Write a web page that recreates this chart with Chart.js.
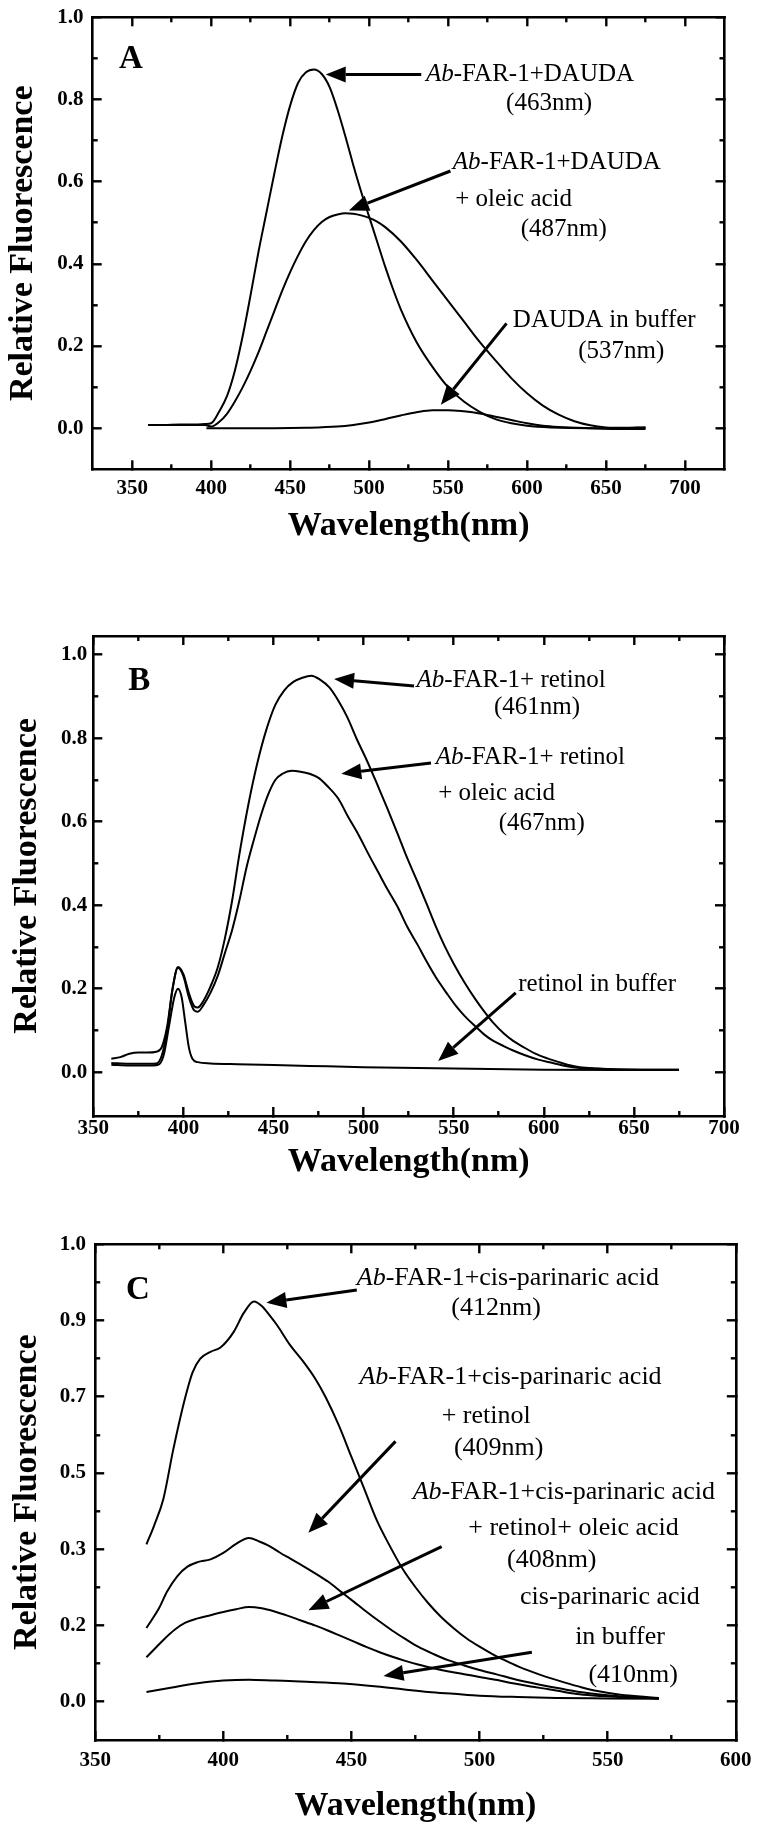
<!DOCTYPE html>
<html>
<head>
<meta charset="utf-8">
<title>Fluorescence emission spectra</title>
<script src="https://cdn.jsdelivr.net/npm/chart.js@4/dist/chart.umd.min.js"></script>
<style>
  html, body { margin:0; padding:0; background:#ffffff; }
  #page { position:relative; width:760px; height:1839px; overflow:hidden; background:#fff; }
  #page canvas { position:absolute; left:0; }
</style>
</head>
<body>
<div id="page">
  <canvas id="panelA" width="760" height="560" style="top:0px;"></canvas>
  <canvas id="panelB" width="760" height="630" style="top:560px;"></canvas>
  <canvas id="panelC" width="760" height="649" style="top:1190px;"></canvas>
</div>
<script>
// ---------------- Panel A data ----------------
const A_X_TICKS = [350, 400, 450, 500, 550, 600, 650, 700];
const A_X_LABELS = ['350', '400', '450', '500', '550', '600', '650', '700'];
const A_X_MINOR = [375, 425, 475, 525, 575, 625, 675];
const A_Y_TICKS = [0, 0.2, 0.4, 0.6, 0.8, 1.0];
const A_Y_LABELS = ['0.0', '0.2', '0.4', '0.6', '0.8', '1.0'];
const A_Y_MINOR = [0.1, 0.3, 0.5, 0.7, 0.9];

const A1_WL = [360,370,380,390,396,400,405,410,415,420,425,430,435,440,445,450,455,460,465,470,475,480,485,490,495,500,505,510,515,520,530,540,550,560,570,580,590,600,615,640,660,675];
const A1_F  = [0.008,0.008,0.009,0.009,0.01,0.012,0.04,0.078,0.14,0.225,0.325,0.43,0.525,0.62,0.71,0.785,0.84,0.866,0.873,0.862,0.83,0.775,0.71,0.64,0.575,0.515,0.455,0.395,0.34,0.29,0.21,0.15,0.1,0.065,0.04,0.022,0.012,0.006,0.002,0.0,0.0,0.002];
const A2_WL = [360,380,396,400,405,410,415,420,425,430,435,440,445,450,455,460,465,470,475,480,485,490,495,500,505,510,520,530,540,550,560,570,580,590,600,610,620,630,640,650,660,675];
const A2_F  = [0.008,0.008,0.008,0.004,0.015,0.035,0.065,0.1,0.14,0.185,0.235,0.285,0.335,0.38,0.42,0.455,0.482,0.502,0.514,0.52,0.523,0.522,0.518,0.512,0.503,0.49,0.455,0.41,0.36,0.31,0.26,0.21,0.165,0.122,0.085,0.055,0.033,0.017,0.007,0.002,0.001,0.002];
const A3_WL = [397,420,440,460,480,490,500,510,520,530,540,550,560,570,580,590,600,610,620,640,660,675];
const A3_F  = [0.0,0.0,0.0,0.001,0.004,0.008,0.014,0.022,0.031,0.039,0.044,0.044,0.041,0.036,0.028,0.02,0.012,0.006,0.003,0.0,-0.002,-0.002];

// ---------------- Panel B data ----------------
const B_X_TICKS = [350, 400, 450, 500, 550, 600, 650, 700];
const B_X_LABELS = ['350', '400', '450', '500', '550', '600', '650', '700'];
const B_X_MINOR = [375, 425, 475, 525, 575, 625, 675];
const B_Y_TICKS = [0, 0.2, 0.4, 0.6, 0.8, 1.0];
const B_Y_LABELS = ['0.0', '0.2', '0.4', '0.6', '0.8', '1.0'];
const B_Y_MINOR = [0.1, 0.3, 0.5, 0.7, 0.9];

const B1_WL = [360,365,370,375,380,385,388,391,394,397,400,403,406,408,411,415,419,423,427,431,436,441,446,451,456,461,466,471,476,481,486,491,496,502,508,513,519,524,530,535,540,545,550,556,562,567,572,578,583,588,595,602,610,615,620,630,640,655,675];
const B1_F  = [0.032,0.036,0.044,0.047,0.047,0.049,0.06,0.11,0.2,0.252,0.235,0.19,0.158,0.155,0.17,0.205,0.25,0.32,0.41,0.52,0.64,0.74,0.82,0.88,0.915,0.935,0.945,0.95,0.94,0.922,0.89,0.85,0.8,0.745,0.685,0.634,0.57,0.515,0.455,0.403,0.35,0.302,0.26,0.215,0.175,0.145,0.118,0.092,0.075,0.062,0.045,0.033,0.022,0.016,0.012,0.009,0.007,0.006,0.006];
const B2_WL = [360,370,380,385,388,391,394,397,400,403,406,408,411,415,419,423,427,431,435,439,443,447,451,455,460,465,470,475,480,486,491,497,503,508,513,519,524,530,535,540,546,551,556,562,567,572,578,583,590,597,605,612,620,630,645,675];
const B2_F  = [0.022,0.02,0.02,0.021,0.04,0.1,0.2,0.25,0.23,0.18,0.148,0.145,0.16,0.19,0.23,0.285,0.34,0.41,0.49,0.555,0.615,0.665,0.7,0.715,0.722,0.72,0.715,0.705,0.685,0.655,0.615,0.57,0.52,0.48,0.44,0.395,0.35,0.305,0.265,0.228,0.19,0.16,0.135,0.11,0.09,0.075,0.062,0.052,0.04,0.03,0.022,0.015,0.01,0.008,0.006,0.006];
const B3_WL = [360,370,380,386,389,392,395,397,399,401,403,405,408,415,430,450,470,500,530,560,600,640,675];
const B3_F  = [0.018,0.016,0.016,0.018,0.04,0.11,0.18,0.2,0.18,0.12,0.06,0.032,0.024,0.021,0.019,0.017,0.015,0.012,0.01,0.008,0.006,0.005,0.005];

// ---------------- Panel C data ----------------
const C_X_TICKS = [350, 400, 450, 500, 550, 600];
const C_X_LABELS = ['350', '400', '450', '500', '550', '600'];
const C_X_MINOR = [375, 425, 475, 525, 575];
// the printed y labels of panel C sit at equal spacing
const C_Y_TICKS = [0, 0.1667, 0.3333, 0.5, 0.6667, 0.8333, 1.0];
const C_Y_LABELS = ['0.0', '0.2', '0.3', '0.5', '0.7', '0.9', '1.0'];
const C_Y_MINOR = [0.0833, 0.25, 0.4167, 0.5833, 0.75, 0.9167];

const C1_WL = [370,373,376.6,380.5,385,388,391,395,399,404,408,412,415,418,421,426,431,436,440,445,450,455,460,465,470,475,480,485,490,495,500,505,510,515,520,526,533,540,546,555,565,570];
const C1_F  = [0.344,0.385,0.443,0.552,0.662,0.72,0.75,0.765,0.775,0.808,0.85,0.875,0.865,0.845,0.823,0.78,0.745,0.705,0.665,0.605,0.535,0.465,0.395,0.34,0.29,0.25,0.215,0.185,0.16,0.138,0.12,0.104,0.09,0.077,0.066,0.054,0.042,0.031,0.023,0.015,0.01,0.008];
const C2_WL = [370,375,378,382,386,390,395,400,405,410,414,418,422,426,431,436,441,446,451,456,461,466,471,476,482,488,494,500,507,513,520,527,533,539,548,558,570];
const C2_F  = [0.161,0.205,0.24,0.274,0.295,0.305,0.311,0.325,0.345,0.358,0.35,0.34,0.326,0.313,0.297,0.28,0.262,0.24,0.218,0.196,0.175,0.155,0.137,0.12,0.104,0.09,0.079,0.069,0.059,0.05,0.041,0.033,0.027,0.021,0.015,0.01,0.007];
const C3_WL = [370,374,377,381,385,390,395,400,405,410,415,420,425,430,436,441,446,451,456,461,466,471,476,482,488,494,500,507,513,520,527,533,539,548,558,570];
const C3_F  = [0.097,0.12,0.137,0.157,0.172,0.182,0.189,0.196,0.202,0.207,0.204,0.197,0.188,0.178,0.166,0.155,0.143,0.131,0.119,0.108,0.098,0.089,0.081,0.073,0.066,0.06,0.054,0.047,0.04,0.033,0.027,0.021,0.016,0.012,0.009,0.007];
const C4_WL = [370,380,390,400,410,420,430,445,460,470,480,490,500,515,530,550,570];
const C4_F  = [0.021,0.031,0.04,0.046,0.048,0.046,0.044,0.04,0.033,0.027,0.021,0.017,0.013,0.01,0.008,0.007,0.006];

// ---------------- rendering ----------------
const SERIF = '"Liberation Serif", "Times New Roman", Times, serif';
Chart.defaults.font.family = SERIF;
Chart.defaults.color = '#000';
const TICK_COLOR = '#000000';

function drawArrow(c, x1, y1, x2, y2) {
  const ang = Math.atan2(y2 - y1, x2 - x1);
  const hl = 20, hw = 8;
  const bx = x2 - hl * Math.cos(ang), by = y2 - hl * Math.sin(ang);
  c.beginPath(); c.moveTo(x1, y1); c.lineTo(bx, by);
  c.lineWidth = 3; c.lineCap = 'butt'; c.stroke();
  c.beginPath(); c.moveTo(x2, y2);
  c.lineTo(bx + hw * Math.sin(ang), by - hw * Math.cos(ang));
  c.lineTo(bx - hw * Math.sin(ang), by + hw * Math.cos(ang));
  c.closePath(); c.fill();
}

function drawLabel(c, text, x, y, size) {
  const parts = text.split('*');
  let cx = x;
  c.textAlign = 'left'; c.textBaseline = 'middle';
  parts.forEach((t, i) => {
    if (!t) return;
    c.font = (i % 2 === 1 ? 'italic ' : '') + size + 'px ' + SERIF;
    c.fillText(t, cx, y);
    cx += c.measureText(t).width;
  });
}

function makePanel(canvasId, P) {
  const canvas = document.getElementById(canvasId);
  const W = canvas.width, H = canvas.height;
  const F = P.frame;
  const zero = s => { s.paddingLeft = 0; s.paddingRight = 0; s.paddingTop = 0; s.paddingBottom = 0; };
  const fix = (vals, lo, hi) => axis => { axis.ticks = vals.map(v => ({ value: v })); axis.min = lo; axis.max = hi; };
  const grid = len => ({ display: true, drawOnChartArea: false, drawTicks: true, tickLength: -len,
                         tickWidth: 2.4, tickColor: TICK_COLOR, lineWidth: 2.6, color: '#000' });
  const border = show => ({ display: show, width: 2.6, color: '#000' });
  const xAxis = (pos, weight, vals, len, showBorder, size) => ({
    type: 'linear', axis: 'x', position: pos, weight: weight, min: P.xMin, max: P.xMax, bounds: 'data',
    afterBuildTicks: fix(vals, P.xMin, P.xMax),
    afterFit: s => { s.height = size; zero(s); },
    grid: grid(len), border: border(showBorder), ticks: { display: false }
  });
  const yAxis = (pos, weight, vals, len, showBorder, size) => ({
    type: 'linear', axis: 'y', position: pos, weight: weight, min: P.yMin, max: P.yMax, bounds: 'data',
    afterBuildTicks: fix(vals, P.yMin, P.yMax),
    afterFit: s => { s.width = size; zero(s); },
    grid: grid(len), border: border(showBorder), ticks: { display: false }
  });
  const tickFont = { family: SERIF, size: 21, weight: 'bold' };
  const titleFont = { family: SERIF, size: 34, weight: 'bold' };

  const scales = {
    x: Object.assign(xAxis('bottom', 2, P.xMajor, 9, true, H - F.bottom), {
      ticks: { display: true, autoSkip: false, maxRotation: 0, minRotation: 0, padding: P.xTickPad,
               color: '#000', font: tickFont, callback: (v, i) => P.xLabels[i] },
      title: { display: true, text: 'Wavelength(nm)', color: '#000', font: titleFont,
               padding: { top: 0, bottom: P.xTitlePad } }
    }),
    xMinor: xAxis('bottom', 1, P.xMinor, 5, false, 0),
    xTop: xAxis('top', 2, P.xMajor, 9, true, 0),
    xTopMinor: xAxis('top', 1, P.xMinor, 5, false, 0),
    y: Object.assign(yAxis('left', 2, P.yMajor, 9, true, F.left), {
      ticks: { display: true, autoSkip: false, padding: P.yTickPad, color: '#000', font: tickFont,
               callback: (v, i) => P.yLabels[i] },
      title: { display: true, text: 'Relative Fluorescence', color: '#000', font: titleFont,
               padding: { top: P.yTitlePad, bottom: 0 } }
    }),
    yMinor: yAxis('left', 1, P.yMinor, 5, false, 0),
    yRight: yAxis('right', 2, P.yMajor, 9, true, 0),
    yRightMinor: yAxis('right', 1, P.yMinor, 5, false, 0)
  };

  const notes = {
    id: 'notes_' + canvasId,
    afterDraw(chart) {
      const c = chart.ctx, xs = chart.scales.x, ys = chart.scales.y;
      c.save();
      c.fillStyle = '#000'; c.strokeStyle = '#000';
      P.arrows.forEach(a => drawArrow(c, xs.getPixelForValue(a[0]), ys.getPixelForValue(a[1]),
                                         xs.getPixelForValue(a[2]), ys.getPixelForValue(a[3])));
      P.notes.forEach(n => drawLabel(c, n.t, xs.getPixelForValue(n.x), ys.getPixelForValue(n.y), P.noteSize));
      c.font = 'bold 33px ' + SERIF; c.textAlign = 'left'; c.textBaseline = 'middle';
      c.fillText(P.letter.t, xs.getPixelForValue(P.letter.x), ys.getPixelForValue(P.letter.y));
      c.restore();
    }
  };

  return new Chart(canvas, {
    type: 'line',
    data: {
      datasets: P.series.map(s => ({
        data: s.x.map((x, i) => ({ x: x, y: s.y[i] })),
        borderColor: '#000', borderWidth: 2, pointRadius: 0, pointHoverRadius: 0, fill: false,
        cubicInterpolationMode: 'monotone', xAxisID: 'x', yAxisID: 'y'
      }))
    },
    options: {
      responsive: false, animation: false, devicePixelRatio: 1, events: [],
      layout: { padding: { left: 0, top: F.top, right: W - F.right, bottom: 0 } },
      plugins: { legend: { display: false }, tooltip: { enabled: false }, title: { display: false } },
      scales: scales
    },
    plugins: [notes]
  });
}

makePanel('panelA', {
  frame: { left: 92.7, right: 724.5, top: 17.3, bottom: 469.3 },
  xMin: 325, xMax: 725, yMin: -0.1, yMax: 1.0,
  xMajor: A_X_TICKS, xLabels: A_X_LABELS, xMinor: A_X_MINOR,
  yMajor: A_Y_TICKS, yLabels: A_Y_LABELS, yMinor: A_Y_MINOR,
  xTickPad: 16, xTitlePad: 13.6, yTickPad: 18.2, yTitlePad: 2.6,
  series: [{ x: A1_WL, y: A1_F }, { x: A2_WL, y: A2_F }, { x: A3_WL, y: A3_F }],
  noteSize: 25,
  notes: [
    { t: '*Ab*-FAR-1+DAUDA', x: 536, y: 0.861 },
    { t: '(463nm)', x: 586.7, y: 0.791 },
    { t: '*Ab*-FAR-1+DAUDA', x: 553, y: 0.648 },
    { t: '+ oleic acid', x: 554.5, y: 0.557 },
    { t: '(487nm)', x: 596, y: 0.483 },
    { t: 'DAUDA in buffer', x: 591, y: 0.263 },
    { t: '(537nm)', x: 632.4, y: 0.186 }
  ],
  arrows: [[533, 0.861, 472.5, 0.861], [551.5, 0.626, 487.2, 0.53], [587, 0.255, 545.4, 0.057]],
  letter: { t: 'A', x: 341.7, y: 0.897 }
});

makePanel('panelB', {
  frame: { left: 93.3, right: 724, top: 76, bottom: 556 },
  xMin: 350, xMax: 700, yMin: -0.105, yMax: 1.045,
  xMajor: B_X_TICKS, xLabels: B_X_LABELS, xMinor: B_X_MINOR,
  yMajor: B_Y_TICKS, yLabels: B_Y_LABELS, yMinor: B_Y_MINOR,
  xTickPad: 9.4, xTitlePad: 7.6, yTickPad: 15, yTitlePad: 7.1,
  series: [{ x: B1_WL, y: B1_F }, { x: B2_WL, y: B2_F }, { x: B3_WL, y: B3_F }],
  noteSize: 25,
  notes: [
    { t: '*Ab*-FAR-1+ retinol', x: 529.3, y: 0.938 },
    { t: '(461nm)', x: 572.3, y: 0.873 },
    { t: '*Ab*-FAR-1+ retinol', x: 540, y: 0.754 },
    { t: '+ oleic acid', x: 541.4, y: 0.668 },
    { t: '(467nm)', x: 575, y: 0.596 },
    { t: 'retinol in buffer', x: 585.8, y: 0.211 }
  ],
  arrows: [[528, 0.925, 483.6, 0.942], [537.4, 0.741, 487.6, 0.715], [584.4, 0.19, 541.4, 0.027]],
  letter: { t: 'B', x: 369.4, y: 0.936 }
});

makePanel('panelC', {
  frame: { left: 95.2, right: 735.8, top: 54.3, bottom: 550 },
  xMin: 350, xMax: 600, yMin: -0.084, yMax: 1.0,
  xMajor: C_X_TICKS, xLabels: C_X_LABELS, xMinor: C_X_MINOR,
  yMajor: C_Y_TICKS, yLabels: C_Y_LABELS, yMinor: C_Y_MINOR,
  xTickPad: 17.1, xTitlePad: 12.6, yTickPad: 18.2, yTitlePad: 6.6,
  series: [{ x: C1_WL, y: C1_F }, { x: C2_WL, y: C2_F }, { x: C3_WL, y: C3_F }, { x: C4_WL, y: C4_F }],
  noteSize: 26,
  notes: [
    { t: '*Ab*-FAR-1+cis-parinaric acid', x: 452.1, y: 0.925 },
    { t: '(412nm)', x: 489, y: 0.86 },
    { t: '*Ab*-FAR-1+cis-parinaric acid', x: 453.1, y: 0.709 },
    { t: '+ retinol', x: 485.2, y: 0.624 },
    { t: '(409nm)', x: 490, y: 0.554 },
    { t: '*Ab*-FAR-1+cis-parinaric acid', x: 473.9, y: 0.459 },
    { t: '+ retinol+ oleic acid', x: 495.6, y: 0.379 },
    { t: '(408nm)', x: 510.7, y: 0.309 },
    { t: 'cis-parinaric acid', x: 515.8, y: 0.229 },
    { t: 'in buffer', x: 537.3, y: 0.141 },
    { t: '(410nm)', x: 542.5, y: 0.057 }
  ],
  arrows: [[452.1, 0.9, 416.8, 0.872], [467.2, 0.569, 433.2, 0.369], [485.2, 0.339, 433.2, 0.2], [520.4, 0.108, 462.5, 0.056]],
  letter: { t: 'C', x: 362, y: 0.898 }
});
</script>
</body>
</html>
